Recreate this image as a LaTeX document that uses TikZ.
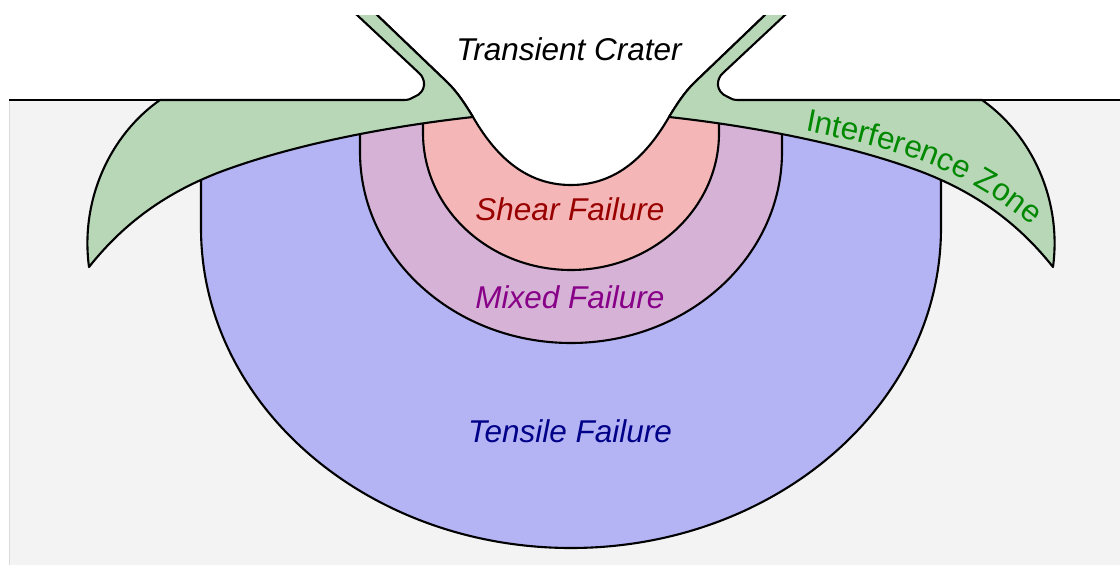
\documentclass[tikz,border=0pt]{standalone}
\usepackage{fontspec}
\setmainfont{Liberation Sans}
\usetikzlibrary{decorations.text}

\definecolor{groundfill}{HTML}{F3F3F3}
\definecolor{groundedge}{HTML}{DADADA}
\definecolor{tensilefill}{HTML}{B4B4F4}
\definecolor{mixedfill}{HTML}{D6B3D6}
\definecolor{shearfill}{HTML}{F4B6B6}
\definecolor{zonefill}{HTML}{B7D7B7}
\definecolor{sheartext}{HTML}{990000}
\definecolor{mixedtext}{HTML}{880088}
\definecolor{tensiletext}{HTML}{000088}
\definecolor{zonetext}{HTML}{008800}

\begin{document}
\begin{tikzpicture}[x=1pt, y=-1pt, line join=round,
  outline/.style={draw=black, line width=2.1pt},
  regionlabel/.style={font=\fontsize{31.5}{37}\selectfont\itshape, anchor=base, inner sep=0pt}]
\useasboundingbox (0,0) rectangle (1120,565);

% ground half-space
\fill[groundfill] (9,100) rectangle (1120,565);
\draw[groundedge, line width=0.8pt] (9.5,100) -- (9.5,565);

\begin{scope}
\clip (0,15) rectangle (1120,565);

% ground surface
\draw[line width=2.1pt] (9,100) -- (1120,100);

% tensile failure zone
\path[fill=tensilefill, outline] (201,100) -- (201,228)
  arc[start angle=180, end angle=0, x radius=370, y radius=320] -- (941,100);
% mixed failure zone
\path[fill=mixedfill, outline] (360,100) -- (360,152)
  arc[start angle=180, end angle=0, x radius=211, y radius=191] -- (782,100);
% shear failure zone
\path[fill=shearfill, outline] (423,100) -- (423,133)
  arc[start angle=180, end angle=0, x radius=148, y radius=137] -- (719,100);

% transient crater cavity
\path[fill=white, outline] (366.6,5) -- (448,83)
  .. controls (458,93) and (465,104) .. (473,117)
  .. controls (495,155) and (525,185) .. (571,185)
  .. controls (617,185) and (647,155) .. (669,117)
  .. controls (677,104) and (684,93) .. (694,83)
  -- (775.4,5) -- cycle;

% interference zone: ejecta curtain, band and wing (left, then mirrored)
\foreach \m/\s in {0/1, 1142/-1} {
  \begin{scope}[shift={(\m,0)}, xscale=\s]
    \path[fill=zonefill, outline] (346.3,5) -- (419,73)
      .. controls (426,79) and (427,92) .. (414,97)
      .. controls (411,99) and (408,100) .. (404,100)
      -- (160,100)
      .. controls (110,135) and (80,200) .. (89,267)
      .. controls (120,228) and (160,195) .. (220,172)
      .. controls (300,142) and (400,125) .. (473,117)
      .. controls (465,104) and (458,93) .. (448,83)
      -- (366.6,5) -- cycle;
  \end{scope}
}
\end{scope}

% labels
\node[regionlabel, text=black] (crater) at (569,60) {Transient Crater};
\node[regionlabel, text=sheartext] (shear) at (570,220) {Shear Failure};
\node[regionlabel, text=mixedtext] (mixed) at (570,308) {Mixed Failure};
\node[regionlabel, text=tensiletext] (tensile) at (570,442) {Tensile Failure};

\path[decorate, decoration={text along path, text align=left,
  text={|\fontsize{31.5}{37}\selectfont\color{zonetext}|Interference Zone}}]
  (805,131) .. controls (905,150) and (975,172) .. (1048,240);
\end{tikzpicture}
\end{document}
